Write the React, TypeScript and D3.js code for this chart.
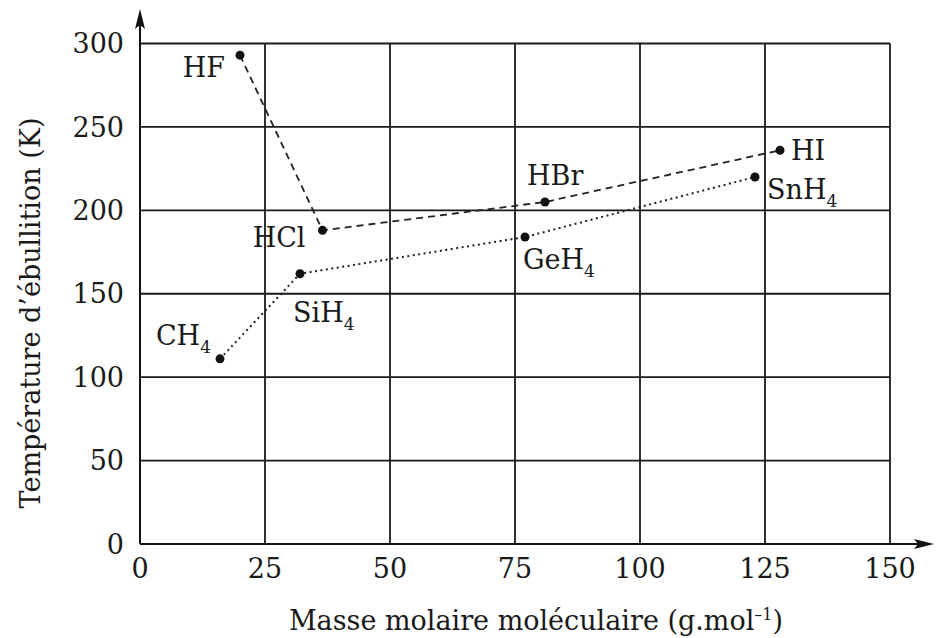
import React from 'react';
import * as d3 from 'd3';

// Hydrogen halides (dashed series)
const halides = ['HF', 'HCl', 'HBr', 'HI'];
const halideMass = [20, 36.5, 81, 128];
const halideTemp = [293, 188, 205, 236];

// Group 14 hydrides (dotted series)
const group14 = ['CH', 'SiH', 'GeH', 'SnH'];
const group14Sub = ['4', '4', '4', '4'];
const group14Mass = [16, 32, 77, 123];
const group14Temp = [111, 162, 184, 220];

const xTicks = [0, 25, 50, 75, 100, 125, 150];
const yTicks = [0, 50, 100, 150, 200, 250, 300];

const W = 937;
const H = 638;
const FONT = '"DejaVu Serif", serif';

// label placement relative to each point (style, not data)
const halideLabelPos = [
  { dx: -15, dy: 22, anchor: 'end' },
  { dx: -17, dy: 17, anchor: 'end' },
  { dx: -18, dy: -17, anchor: 'start' },
  { dx: 11, dy: 10, anchor: 'start' },
];
const group14LabelPos = [
  { dx: -9, dy: -14, anchor: 'end' },
  { dx: -7, dy: 48, anchor: 'start' },
  { dx: -2, dy: 32, anchor: 'start' },
  { dx: 12, dy: 22, anchor: 'start' },
];

export default function App() {
  const x = d3.scaleLinear().domain([0, 150]).range([140, 890]);
  const y = d3.scaleLinear().domain([0, 300]).range([544, 43.5]);

  const line = d3.line<[number, number]>()
    .x(d => x(d[0]))
    .y(d => y(d[1]));

  const halidePts = halideMass.map((m, i) => [m, halideTemp[i]] as [number, number]);
  const group14Pts = group14Mass.map((m, i) => [m, group14Temp[i]] as [number, number]);

  const x0 = x(0);
  const y0 = y(0);

  return (
    <div style={{ position: 'absolute', left: 0, top: 0 }}>
      <svg width={W} height={H} style={{ display: 'block', background: '#fff' }} fontFamily={FONT}>
        {/* grid */}
        <g stroke="#1a1a1a" strokeWidth={1.8}>
          {yTicks.filter(t => t > 0).map(t => (
            <line key={'h' + t} x1={x0} x2={x(150)} y1={y(t)} y2={y(t)} />
          ))}
          {xTicks.filter(t => t > 0).map(t => (
            <line key={'v' + t} x1={x(t)} x2={x(t)} y1={y0} y2={y(300)} />
          ))}
        </g>

        {/* axes with arrows */}
        <g stroke="#111" strokeWidth={2}>
          <line x1={x0} x2={x0} y1={y0} y2={20} />
          <line x1={x0} x2={925} y1={y0} y2={y0} />
        </g>
        <path d={`M${x0},9 L${x0 + 5},29 L${x0},25 L${x0 - 5},29 Z`} fill="#111" />
        <path d={`M934,${y0} L914,${y0 - 5} L918,${y0} L914,${y0 + 5} Z`} fill="#111" />

        {/* tick labels */}
        <g fontSize={27} fill="#1a1a1a">
          {yTicks.map(t => (
            <text key={'yl' + t} x={x0 - 16} y={y(t)} dy="0.36em" textAnchor="end">{t}</text>
          ))}
          {xTicks.map(t => (
            <text key={'xl' + t} x={x(t)} y={578} textAnchor="middle">{t}</text>
          ))}
        </g>

        {/* axis titles */}
        <text x={536} y={630} fontSize={27} textAnchor="middle" fill="#1a1a1a">
          Masse molaire moléculaire (g.mol<tspan dy={-10} fontSize={16}>–1</tspan><tspan dy={10}>)</tspan>
        </text>
        <text transform={`translate(40,313) rotate(-90)`} fontSize={27} textAnchor="middle" fill="#1a1a1a">
          Température d’ébullition (K)
        </text>

        {/* series lines */}
        <path d={line(halidePts) || ''} fill="none" stroke="#222" strokeWidth={1.8} strokeDasharray="7,5" />
        <path d={line(group14Pts) || ''} fill="none" stroke="#222" strokeWidth={2} strokeDasharray="2,3.5" />

        {/* points */}
        <g fill="#111">
          {halidePts.map((p, i) => (
            <circle key={'hp' + i} cx={x(p[0])} cy={y(p[1])} r={4.5} />
          ))}
          {group14Pts.map((p, i) => (
            <circle key={'gp' + i} cx={x(p[0])} cy={y(p[1])} r={4.5} />
          ))}
        </g>

        {/* labels */}
        <g fontSize={27} fill="#1a1a1a">
          {halides.map((name, i) => (
            <text key={'hl' + i} x={x(halidePts[i][0]) + halideLabelPos[i].dx}
              y={y(halidePts[i][1]) + halideLabelPos[i].dy}
              textAnchor={halideLabelPos[i].anchor}>{name}</text>
          ))}
          {group14.map((name, i) => (
            <text key={'gl' + i} x={x(group14Pts[i][0]) + group14LabelPos[i].dx}
              y={y(group14Pts[i][1]) + group14LabelPos[i].dy}
              textAnchor={group14LabelPos[i].anchor}>
              {name}<tspan dy={8} fontSize={17}>{group14Sub[i]}</tspan>
            </text>
          ))}
        </g>
      </svg>
    </div>
  );
}
